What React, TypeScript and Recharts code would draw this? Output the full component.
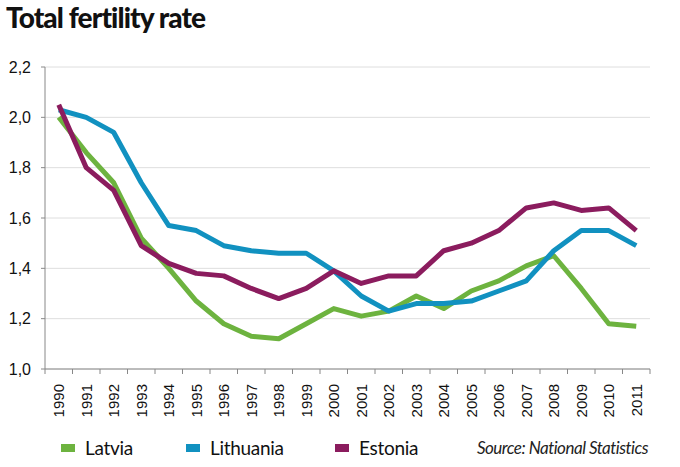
import { LineChart, Line, XAxis, YAxis, CartesianGrid } from "recharts";

// Total fertility rate, Baltic states 1990-2011
const years = [1990, 1991, 1992, 1993, 1994, 1995, 1996, 1997, 1998, 1999, 2000, 2001, 2002, 2003, 2004, 2005, 2006, 2007, 2008, 2009, 2010, 2011];
const latvia = [2.0, 1.86, 1.74, 1.52, 1.4, 1.27, 1.18, 1.13, 1.12, 1.18, 1.24, 1.21, 1.23, 1.29, 1.24, 1.31, 1.35, 1.41, 1.45, 1.32, 1.18, 1.17];
const lithuania = [2.03, 2.0, 1.94, 1.74, 1.57, 1.55, 1.49, 1.47, 1.46, 1.46, 1.39, 1.29, 1.23, 1.26, 1.26, 1.27, 1.31, 1.35, 1.47, 1.55, 1.55, 1.49];
const estonia = [2.05, 1.8, 1.71, 1.49, 1.42, 1.38, 1.37, 1.32, 1.28, 1.32, 1.39, 1.34, 1.37, 1.37, 1.47, 1.5, 1.55, 1.64, 1.66, 1.63, 1.64, 1.55];
const yTicks = [1.0, 1.2, 1.4, 1.6, 1.8, 2.0, 2.2];

const GREEN = "#6db33f";
const BLUE = "#1191c0";
const PURPLE = "#8b1c5e";

const data = years.map((y, i) => ({ year: y, latvia: latvia[i], lithuania: lithuania[i], estonia: estonia[i] }));
// labels sit on the years, tick marks sit between them
const xTicks = [...years.map((y) => y - 0.5), years[years.length - 1] + 0.5, ...years];

const NUM = "'Liberation Sans', Arial, sans-serif";
const NARROW = "Lato, 'Liberation Sans', sans-serif";

function YearTick({ x, y, payload }: any) {
  const v = payload.value as number;
  if (v % 1 !== 0) return <line x1={x} x2={x} y1={y} y2={y + 5} stroke="#888" strokeWidth={1} />;
  return (
    <text x={x} y={y + 15} transform={`rotate(-90, ${x}, ${y + 15})`} textAnchor="end" dominantBaseline="central"
      fontSize={15} fontFamily={NUM} fill="#111">{v}</text>
  );
}

const legendItems = [
  { name: "Latvia", color: GREEN, sq: 61, tx: 85 },
  { name: "Lithuania", color: BLUE, sq: 186, tx: 210 },
  { name: "Estonia", color: PURPLE, sq: 335, tx: 359 },
];

export default function App() {
  return (
    <div style={{ position: "absolute", left: 0, top: 0, width: 680, height: 467, background: "#fff", overflow: "hidden" }}>
      <div style={{ position: "absolute", left: 6, top: 0, fontFamily: NARROW, fontWeight: 900, fontSize: 28, color: "#111", letterSpacing: -0.9 }}>
        Total fertility rate
      </div>
      <div style={{ position: "absolute", left: 0, top: 0 }}>
        <LineChart width={680} height={440} data={data} margin={{ top: 67, right: 30, left: 0, bottom: 0 }}>
          <CartesianGrid vertical={false} stroke="#dedede" strokeWidth={1} />
          <XAxis dataKey="year" type="number" domain={[1989.5, 2011.5]} ticks={xTicks} interval={0} height={71}
            tick={<YearTick />} tickLine={false} tickSize={0} tickMargin={0} axisLine={{ stroke: "#888" }} />
          <YAxis type="number" domain={[1.0, 2.2]} ticks={yTicks} interval={0} width={45} tickSize={4} tickMargin={10}
            tickLine={{ stroke: "#888" }} axisLine={{ stroke: "#888" }}
            tickFormatter={(v: number) => v.toFixed(1).replace(".", ",")}
            tick={{ fontSize: 16, fontFamily: NUM, fill: "#111" }} />
          <Line dataKey="latvia" stroke={GREEN} strokeWidth={5} dot={false} strokeLinejoin="round" isAnimationActive={false} />
          <Line dataKey="lithuania" stroke={BLUE} strokeWidth={5} dot={false} strokeLinejoin="round" isAnimationActive={false} />
          <Line dataKey="estonia" stroke={PURPLE} strokeWidth={5} dot={false} strokeLinejoin="round" isAnimationActive={false} />
        </LineChart>
      </div>
      {legendItems.map((it) => (
        <div key={it.name}>
          <div style={{ position: "absolute", left: it.sq, top: 444, width: 14, height: 8, background: it.color }} />
          <div style={{ position: "absolute", left: it.tx, top: 437, fontFamily: NARROW, fontSize: 19, color: "#111", lineHeight: "22px", letterSpacing: -0.3 }}>
            {it.name}
          </div>
        </div>
      ))}
      <div style={{ position: "absolute", right: 32, top: 437, fontFamily: NARROW, fontStyle: "italic", fontSize: 17, color: "#222", lineHeight: "22px", letterSpacing: -0.5 }}>
        Source: National Statistics
      </div>
    </div>
  );
}
